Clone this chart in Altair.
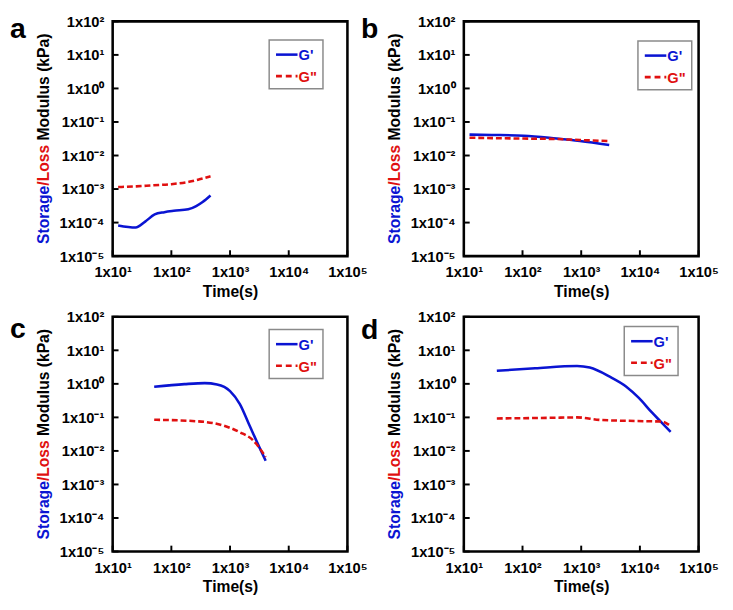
import altair as alt
import pandas as pd

# ---------------- data ----------------
a_t_storage = [12.4, 24.6, 35.8, 52, 76, 110, 194, 265, 341, 465]
a_storage = [8.2e-5, 7.1e-5, 1.07e-4, 1.75e-4, 2.04e-4, 2.24e-4, 2.5e-4, 3.1e-4, 4.1e-4, 6.4e-4]
a_t_loss = [12.4, 25, 50, 100, 200, 300, 465]
a_loss = [1.15e-3, 1.2e-3, 1.3e-3, 1.4e-3, 1.65e-3, 1.95e-3, 2.4e-3]

b_t_storage = [12.5, 30, 105, 380, 950, 3000]
b_storage = [0.042, 0.041, 0.039, 0.032, 0.027, 0.0206]
b_t_loss = [12.5, 30, 105, 380, 950, 3000]
b_loss = [0.034, 0.033, 0.032, 0.031, 0.029, 0.027]

c_t_storage = [51, 167, 370, 600, 1000, 1470, 2150, 3150, 4050]
c_storage = [0.82, 0.98, 1.05, 0.96, 0.61, 0.25, 0.057, 0.013, 0.0051]
c_t_loss = [51, 290, 775, 1470, 2450, 4050]
c_loss = [0.085, 0.076, 0.057, 0.036, 0.021, 0.0066]

d_t_storage = [36.5, 164, 850, 1400, 3060, 5800, 9600, 16000, 23300, 33400]
d_storage = [2.44, 2.92, 3.42, 3.06, 1.64, 0.84, 0.38, 0.14, 0.071, 0.037]
d_t_loss = [36.5, 300, 850, 2100, 8500, 23300, 33400]
d_loss = [0.093, 0.097, 0.1, 0.084, 0.078, 0.075, 0.055]

x_ticks = [10, 100, 1000, 10000, 100000]
y_ticks = [1e-5, 1e-4, 1e-3, 1e-2, 1e-1, 1, 10, 100]
panel_letters = ["a", "b", "c", "d"]
legend_labels = ["G'", 'G"']

# ---------------- styling ----------------
FONT = "Liberation Sans"
BLUE = "#0a14d2"
RED = "#e01010"
W, H = 240, 240
TITLE_FS = 16

# Arial/Liberation Sans Bold advance widths (per 1000 em)
ADV = {'S': 667, 't': 333, 'o': 611, 'r': 389, 'a': 556, 'g': 611, 'e': 556,
       '/': 278, 'L': 611, 's': 556, ' ': 278, 'M': 833, 'd': 611, 'u': 611,
       'l': 278, '(': 333, 'k': 556, 'P': 667, ')': 333}


def text_width(s, fs):
    return sum(ADV.get(ch, 600) for ch in s) * fs / 1000.0


SUP = "['⁻⁵','⁻⁴','⁻³','⁻²','⁻¹','⁰','¹','²','³','⁴','⁵']"
LABEL_EXPR = "'1x10' + " + SUP + "[round(log(datum.value)/LN10) + 5]"

xscale = alt.Scale(type="log", domain=[10, 100000], nice=False)
yscale = alt.Scale(type="log", domain=[1e-5, 100], nice=False)
xaxis = alt.Axis(values=x_ticks, labelExpr=LABEL_EXPR, ticks=False, tickSize=0, domain=False,
                 grid=False, title="Time(s)", labelPadding=9, titlePadding=4,
                 labelOverlap=False, labelFlush=False)
yaxis = alt.Axis(values=y_ticks, labelExpr=LABEL_EXPR, ticks=False, tickSize=0, domain=False,
                 grid=False, title=None, labelPadding=9, labelOverlap=False,
                 labelFlush=False)


def X(field):
    return alt.X(field, type="quantitative", scale=xscale, axis=xaxis)


def Y(field):
    return alt.Y(field, type="quantitative", scale=yscale, axis=yaxis)


one = alt.Data(values=[{"k": 1}])


def panel(letter, ts, gs, tl, gl, leg_x, leg_y, letter_y):
    df_s = pd.DataFrame({"t": ts, "G": gs})
    df_l = pd.DataFrame({"t": tl, "G": gl})
    storage = alt.Chart(df_s).mark_line(color=BLUE, strokeWidth=2.6,
                                         interpolate="monotone").encode(x=X("t"), y=Y("G"))
    loss = alt.Chart(df_l).mark_line(color=RED, strokeWidth=2.6, strokeDash=[6, 3],
                                      interpolate="monotone").encode(x=X("t"), y=Y("G"))
    xt = alt.Chart(pd.DataFrame({"v": x_ticks})).mark_rule(color="black", strokeWidth=2).encode(
        x=X("v"), y=alt.value(H), y2=alt.value(H - 6))
    yt = alt.Chart(pd.DataFrame({"v": y_ticks})).mark_rule(color="black", strokeWidth=2).encode(
        y=Y("v"), x=alt.value(0), x2=alt.value(6))

    # legend box
    box = alt.Chart(one).mark_rect(fill="white", stroke="#8a8a8a", strokeWidth=1.5).encode(
        x=alt.value(leg_x), x2=alt.value(leg_x + 55),
        y=alt.value(leg_y), y2=alt.value(leg_y + 50))
    l1 = alt.Chart(one).mark_rule(color=BLUE, strokeWidth=2.6).encode(
        x=alt.value(leg_x + 7), x2=alt.value(leg_x + 29),
        y=alt.value(leg_y + 15))
    l2 = alt.Chart(one).mark_rule(color=RED, strokeWidth=2.6, strokeDash=[6, 4]).encode(
        x=alt.value(leg_x + 7), x2=alt.value(leg_x + 29),
        y=alt.value(leg_y + 37))
    t1 = alt.Chart(one).mark_text(text=legend_labels[0], color=BLUE, font=FONT, fontWeight="bold",
                                  fontSize=15, align="left", baseline="middle").encode(
        x=alt.value(leg_x + 30), y=alt.value(leg_y + 16))
    t2 = alt.Chart(one).mark_text(text=legend_labels[1], color=RED, font=FONT, fontWeight="bold",
                                  fontSize=15, align="left", baseline="middle").encode(
        x=alt.value(leg_x + 30), y=alt.value(leg_y + 38))

    # multi-coloured rotated y title
    parts = [("Storage", BLUE), ("/Loss", RED), (" Modulus (kPa)", "black")]
    total = sum(text_width(p, TITLE_FS) for p, _ in parts)
    pos = H / 2 + total / 2
    title_layers = []
    for txt, col in parts:
        lead = len(txt) - len(txt.lstrip(" "))
        shown = txt.lstrip(" ")
        start = pos - text_width(" " * lead, TITLE_FS)
        title_layers.append(
            alt.Chart(one).mark_text(text=shown, color=col, font=FONT, fontWeight="bold",
                                     fontSize=TITLE_FS, angle=270, align="left",
                                     baseline="middle").encode(
                x=alt.value(-70), y=alt.value(start)))
        pos -= text_width(txt, TITLE_FS)

    # panel letter (baseline "top": the em box starts at letter_y)
    let = alt.Chart(one).mark_text(text=letter, color="black", font=FONT, fontWeight="bold",
                                   fontSize=29, align="left", baseline="top").encode(
        x=alt.value(-105), y=alt.value(letter_y))

    return alt.layer(storage, loss, xt, yt, box, l1, l2, t1, t2, *title_layers, let).properties(
        width=W, height=H)


pa = panel(panel_letters[0], a_t_storage, a_storage, a_t_loss, a_loss, 160, 19, -6)
pb = panel(panel_letters[1], b_t_storage, b_storage, b_t_loss, b_loss, 178, 20, -6)
pc = panel(panel_letters[2], c_t_storage, c_storage, c_t_loss, c_loss, 160, 13, -1)
pd_ = panel(panel_letters[3], d_t_storage, d_storage, d_t_loss, d_loss, 164, 10, 0)

chart = alt.concat(pa, pb, pc, pd_, columns=2, spacing={"row": 62, "column": 119},
                   bounds="flush").properties(
    padding={"left": 0, "top": -2, "right": 5, "bottom": 2},
    background="white",
).configure_view(stroke="black", strokeWidth=2.6).configure_axis(
    labelFont=FONT, labelFontWeight="bold", labelFontSize=15, labelColor="black",
    titleFont=FONT, titleFontWeight="bold", titleFontSize=16, titleColor="black",
)

chart.save("out.html", embed_options={"renderer": "svg", "actions": False})
